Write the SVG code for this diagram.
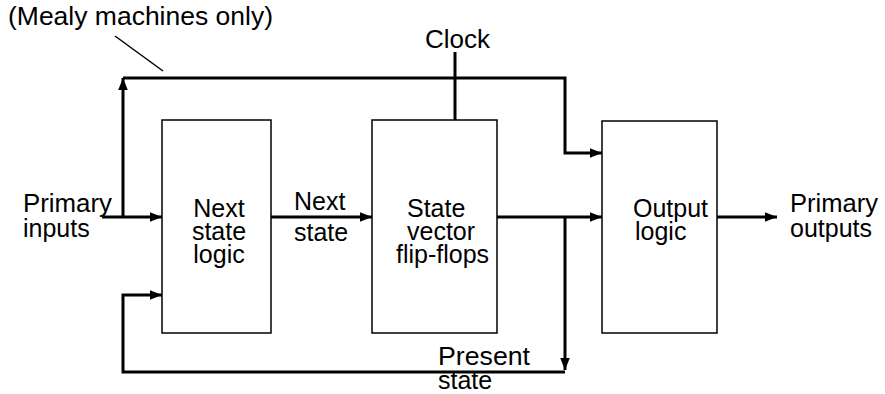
<svg xmlns="http://www.w3.org/2000/svg" width="885" height="394" viewBox="0 0 885 394">
<defs>
<marker id="ah" viewBox="0 0 10 10" refX="10" refY="5" markerWidth="4" markerHeight="4" orient="auto" markerUnits="strokeWidth">
<path d="M0,1 L10,5 L0,9 z" fill="#000"/>
</marker>
<style>
text{font-family:"Liberation Sans",Arial,sans-serif;font-size:25px;fill:#000}
.box{fill:#fff;stroke:#000;stroke-width:1.5}
.w{fill:none;stroke:#000;stroke-width:3}
.a{fill:none;stroke:#000;stroke-width:3;marker-end:url(#ah)}
.thin{fill:none;stroke:#000;stroke-width:1.5}
</style>
</defs>
<rect width="885" height="394" fill="#fff"/>
<g id="connectors">
<path class="a" d="M102,217 H162"/>
<path class="a" d="M123,217 V78"/>
<path class="a" d="M123,78 H565 V153 H602"/>
<path class="a" d="M271,217 H372"/>
<path class="a" d="M497,217 H602"/>
<path class="a" d="M565,217 V370"/>
<path class="a" d="M565,372 H123 V295 H162"/>
<path class="w" d="M455,52 V120"/>
<path class="a" d="M717,217 H777"/>
<path class="thin" d="M115,36 L163,71"/>
</g>
<g id="next-state-logic">
<rect class="box" x="162" y="120" width="109" height="213"/>
<text x="219" y="217" text-anchor="middle">Next</text>
<text x="219" y="240" text-anchor="middle">state</text>
<text x="219" y="263" text-anchor="middle">logic</text>
</g>
<g id="state-vector">
<rect class="box" x="372" y="120" width="125" height="213"/>
<text x="407" y="217">State</text>
<text x="407" y="240">vector</text>
<text x="396" y="263">flip-flops</text>
</g>
<g id="output-logic">
<rect class="box" x="602" y="121" width="115" height="212"/>
<text x="633" y="217">Output</text>
<text x="635" y="240">logic</text>
</g>
<g id="labels">
<text x="8" y="25" textLength="265" lengthAdjust="spacingAndGlyphs">(Mealy machines only)</text>
<text x="425" y="48" textLength="65" lengthAdjust="spacingAndGlyphs">Clock</text>
<text x="23" y="212" textLength="89" lengthAdjust="spacingAndGlyphs">Primary</text>
<text x="23" y="237">inputs</text>
<text x="294" y="210">Next</text>
<text x="294" y="241">state</text>
<text x="790" y="212" textLength="88" lengthAdjust="spacingAndGlyphs">Primary</text>
<text x="790" y="237">outputs</text>
<text x="438" y="365" textLength="92" lengthAdjust="spacingAndGlyphs">Present</text>
<text x="438" y="389">state</text>
</g>
</svg>
